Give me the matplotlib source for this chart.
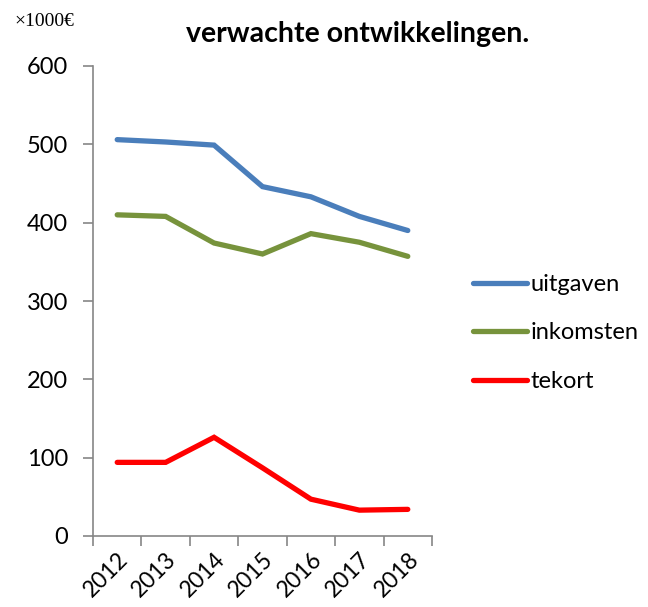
import matplotlib
matplotlib.use("Agg")
import matplotlib.pyplot as plt
from matplotlib.ticker import FixedLocator, NullFormatter

years = ["2012", "2013", "2014", "2015", "2016", "2017", "2018"]
uitgaven = [506, 503, 499, 446, 433, 408, 390]
inkomsten = [410, 408, 374, 360, 386, 375, 357]
tekort = [94, 94, 126, 87, 47, 33, 34]
series_names = ["uitgaven", "inkomsten", "tekort"]
colors = ["#4A7EBB", "#77933C", "#FF0000"]

plt.rcParams['font.family'] = ['Lato', 'DejaVu Sans']

fig = plt.figure(figsize=(6.48, 6.07), dpi=100)
ax = fig.add_axes([93/648, 1-536/607, (432-93)/648, (536-66)/607])

x = list(range(len(years)))
for vals, name, c in zip([uitgaven, inkomsten, tekort], series_names, colors):
    ax.plot(x, vals, color=c, lw=3.8, label=name, solid_capstyle='round', solid_joinstyle='miter')

ax.set_xlim(-0.5, len(years) - 0.5)
ax.set_ylim(0, 600)
ax.set_yticks([0, 100, 200, 300, 400, 500, 600])
ax.xaxis.set_major_locator(FixedLocator([i - 0.5 for i in range(len(years) + 1)]))
ax.xaxis.set_major_formatter(NullFormatter())
ax.xaxis.set_minor_locator(FixedLocator(x))
ax.set_xticklabels(years, minor=True, rotation=45, ha='right', rotation_mode='anchor')
ax.tick_params(axis='x', which='minor', length=0, labelsize=16.5, pad=9)
ax.tick_params(axis='x', which='major', length=7, color='#868686', width=1.2)
ax.tick_params(axis='y', length=7, color='#868686', width=1.2, labelsize=17, pad=11)
for s in ['top', 'right']:
    ax.spines[s].set_visible(False)
for s in ['left', 'bottom']:
    ax.spines[s].set_color('#868686')
    ax.spines[s].set_linewidth(1.2)

fig.text(186/648, 1-34/607, "verwachte ontwikkelingen.", fontsize=20.5, fontweight='bold',
         ha='left', va='center')
fig.text(14/648, 1-21/607, "×1000€", fontsize=14, family='Liberation Serif', ha='left', va='center')

leg = ax.legend(loc='center left', bbox_to_anchor=(473/648, 1-333/607), bbox_transform=fig.transFigure,
                frameon=False, fontsize=17, handlelength=2.3, handletextpad=0.12, labelspacing=1.17,
                borderpad=0, borderaxespad=0)

fig.savefig("out.png", dpi=100)
